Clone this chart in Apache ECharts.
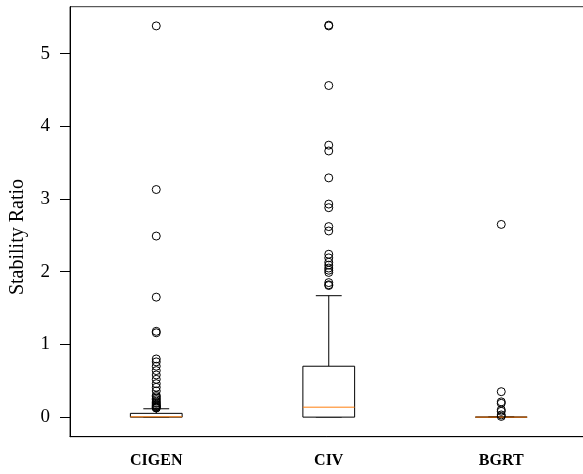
<!DOCTYPE html>
<html>
<head>
<meta charset="utf-8">
<script src="https://cdn.jsdelivr.net/npm/echarts@6/dist/echarts.min.js"></script>
<style>html,body{margin:0;padding:0;background:#fff}#c{width:583px;height:474px}</style>
</head>
<body>
<div id="c"></div>
<script>
// ---- data ----
const categories = ['CIGEN', 'CIV', 'BGRT'];
const whiskerLow = [0, 0, 0];
const q1 = [0, 0, 0];
const median = [0.005, 0.137, 0];
const q3 = [0.052, 0.70, 0];
const whiskerHigh = [0.115, 1.67, 0];
const outliersCIGEN = [5.38, 3.13, 2.49, 1.65, 1.18, 1.16, 0.80, 0.76, 0.70, 0.64, 0.58, 0.52, 0.46, 0.41, 0.36, 0.30, 0.28, 0.26, 0.24, 0.22, 0.20, 0.19, 0.17, 0.16, 0.15, 0.14, 0.13, 0.125];
const outliersCIV = [5.39, 5.38, 4.56, 3.74, 3.66, 3.29, 2.93, 2.88, 2.62, 2.56, 2.24, 2.19, 2.13, 2.09, 2.05, 2.02, 1.99, 1.85, 1.82, 1.81];
const outliersBGRT = [2.65, 0.35, 0.21, 0.19, 0.10, 0.08, 0.03, 0.01];
const yTicks = [0, 1, 2, 3, 4, 5];
const yLabel = 'Stability Ratio';

const FONT = '"Liberation Serif", "DejaVu Serif", serif';
const boxData = categories.map((c, i) => [i, whiskerLow[i], q1[i], median[i], q3[i], whiskerHigh[i]]);
const outlierData = [];
[outliersCIGEN, outliersCIV, outliersBGRT].forEach((arr, i) => arr.forEach(v => outlierData.push([i, v])));

const chart = echarts.init(document.getElementById('c'), null, {renderer: 'canvas'});
chart.setOption({
  animation: false,
  backgroundColor: '#fff',
  grid: {left: 70, top: 6.7, width: 517.5, height: 430, outerBoundsMode: 'none', containLabel: false,
         show: true, borderColor: '#333', borderWidth: 1, backgroundColor: 'transparent'},
  xAxis: {
    type: 'category', data: categories, boundaryGap: true,
    axisLine: {onZero: false, lineStyle: {color: '#000', width: 1}},
    axisTick: {alignWithLabel: true, length: 10, lineStyle: {color: '#000'}},
    axisLabel: {color: '#000', fontFamily: FONT, fontSize: 16, fontWeight: 'bold', margin: 16},
    splitLine: {show: false}
  },
  yAxis: {
    type: 'value', min: -0.269, max: 5.644,
    axisLine: {show: true, onZero: false, lineStyle: {color: '#000', width: 1}},
    axisTick: {show: true, length: 10, customValues: yTicks, lineStyle: {color: '#000'}},
    axisLabel: {color: '#000', fontFamily: FONT, fontSize: 19, margin: 20, customValues: yTicks},
    splitLine: {show: false}
  },
  graphic: [{
    type: 'text', x: 18, y: 237, rotation: Math.PI / 2,
    style: {text: yLabel, fill: '#000', font: '20px ' + FONT, textAlign: 'center', textVerticalAlign: 'middle'}
  }],
  series: [{
    type: 'custom',
    data: boxData,
    renderItem: function (params, api) {
      const i = api.value(0);
      const band = api.size([1, 0])[0];
      const half = band * 0.15, capHalf = band * 0.075;
      const cx = api.coord([i, 0])[0];
      const yLow = api.coord([i, api.value(1)])[1];
      const yQ1 = api.coord([i, api.value(2)])[1];
      const yMed = api.coord([i, api.value(3)])[1];
      const yQ3 = api.coord([i, api.value(4)])[1];
      const yHigh = api.coord([i, api.value(5)])[1];
      const ls = {stroke: '#000', lineWidth: 1, fill: null};
      return {type: 'group', children: [
        {type: 'line', shape: {x1: cx, y1: yQ3, x2: cx, y2: yHigh}, style: ls},
        {type: 'line', shape: {x1: cx, y1: yQ1, x2: cx, y2: yLow}, style: ls},
        {type: 'line', shape: {x1: cx - capHalf, y1: yHigh, x2: cx + capHalf, y2: yHigh}, style: ls},
        {type: 'line', shape: {x1: cx - capHalf, y1: yLow, x2: cx + capHalf, y2: yLow}, style: ls},
        {type: 'rect', shape: {x: cx - half, y: yQ3, width: half * 2, height: yQ1 - yQ3}, style: {stroke: '#000', lineWidth: 1, fill: '#fff'}},
        {type: 'line', shape: {x1: cx - half, y1: yMed, x2: cx + half, y2: yMed}, style: {stroke: '#ff7f0e', lineWidth: 1}}
      ]};
    },
    z: 2
  }, {
    type: 'scatter',
    data: outlierData,
    symbol: 'circle', symbolSize: 8,
    itemStyle: {color: 'rgba(0,0,0,0)', borderColor: '#000', borderWidth: 1, opacity: 1},
    z: 3
  }]
});
</script>
</body>
</html>
